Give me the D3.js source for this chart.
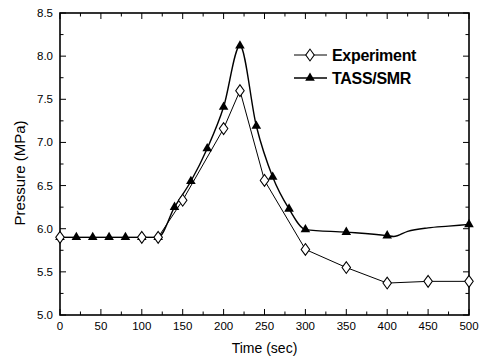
<!DOCTYPE html>
<html>
<head>
<meta charset="utf-8">
<script src="https://cdn.jsdelivr.net/npm/d3@7"></script>
<style>
    body { margin: 0; background: #fff; }
    svg { display: block; font-family: Arial, "Liberation Sans", sans-serif; }
</style>
</head>
<body>
<div id="grafico"></div>
<script>

// Experiment (diamonds)
const expTempo = [0, 100, 120, 150, 200, 220, 250, 300, 350, 400, 450, 500];
const expPressao = [5.9, 5.9, 5.9, 6.33, 7.16, 7.6, 6.56, 5.76, 5.55, 5.37, 5.39, 5.39];

// TASS/SMR markers (triangles)
const tassTempo = [0, 20, 40, 60, 80, 100, 120, 140, 160, 180, 200, 220, 240, 260, 280, 300, 350, 400, 500];
const tassPressao = [5.9, 5.9, 5.9, 5.9, 5.9, 5.9, 5.9, 6.25, 6.55, 6.93, 7.41, 8.12, 7.19, 6.6, 6.23, 5.99, 5.96, 5.92, 6.05];

// TASS/SMR curve (markers plus the visible bend after 400 s)
const tassCurvaTempo = [0, 120, 140, 160, 180, 200, 220, 240, 260, 280, 300, 350, 400, 408, 425, 450, 475, 500];
const tassCurvaPressao = [5.9, 5.9, 6.25, 6.55, 6.93, 7.41, 8.12, 7.19, 6.6, 6.23, 5.99, 5.96, 5.92, 5.91, 5.97, 6.01, 6.03, 6.05];

const ticksX = [0, 50, 100, 150, 200, 250, 300, 350, 400, 450, 500];
const ticksY = [5.0, 5.5, 6.0, 6.5, 7.0, 7.5, 8.0, 8.5];

const legendas = ["Experiment", "TASS/SMR"];

const largura = 483, altura = 364;
const margem = {top: 13, right: 14, bottom: 49, left: 60};

const svg = d3.select("#grafico").append("svg")
    .attr("width", largura)
    .attr("height", altura);

const x = d3.scaleLinear().domain([0, 500]).range([margem.left, largura - margem.right]);
const y = d3.scaleLinear().domain([5.0, 8.5]).range([altura - margem.bottom, margem.top]);

const x0 = x.range()[0], x1 = x.range()[1];
const yBase = y.range()[0], yTopo = y.range()[1];

// ticks menores
const menoresX = d3.range(0, 501, 25);
const menoresY = d3.range(5.0, 8.51, 0.25);

const eixos = svg.append("g").attr("stroke", "#000").attr("fill", "none");

menoresX.forEach((v, i) => {
    const comp = (i % 2 == 0) ? 6 : 3.5;
    eixos.append("line").attr("x1", x(v)).attr("x2", x(v)).attr("y1", yBase).attr("y2", yBase - comp).attr("stroke-width", 1);
    eixos.append("line").attr("x1", x(v)).attr("x2", x(v)).attr("y1", yTopo).attr("y2", yTopo + comp).attr("stroke-width", 1);
});

menoresY.forEach((v, i) => {
    const comp = (i % 2 == 0) ? 6 : 3.5;
    eixos.append("line").attr("x1", x0).attr("x2", x0 + comp).attr("y1", y(v)).attr("y2", y(v)).attr("stroke-width", 1);
    eixos.append("line").attr("x1", x1).attr("x2", x1 - comp).attr("y1", y(v)).attr("y2", y(v)).attr("stroke-width", 1);
});

eixos.append("rect")
    .attr("x", x0).attr("y", yTopo)
    .attr("width", x1 - x0).attr("height", yBase - yTopo)
    .attr("stroke-width", 1.6);

// rotulos
svg.append("g").selectAll("text")
    .data(ticksX)
    .enter().append("text")
        .attr("x", (d) => x(d))
        .attr("y", yBase + 15)
        .attr("text-anchor", "middle")
        .attr("font-size", "11.5px")
        .text((d) => d);

svg.append("g").selectAll("text")
    .data(ticksY)
    .enter().append("text")
        .attr("x", x0 - 7)
        .attr("y", (d) => y(d) + 4)
        .attr("text-anchor", "end")
        .attr("font-size", "11.5px")
        .text((d) => d.toFixed(1));

svg.append("text")
    .attr("x", (x0 + x1) / 2)
    .attr("y", 353)
    .attr("text-anchor", "middle")
    .attr("font-size", "14px")
    .text("Time (sec)");

svg.append("text")
    .attr("transform", "translate(25," + 173 + ") rotate(-90)")
    .attr("text-anchor", "middle")
    .attr("font-size", "15px")
    .text("Pressure (MPa)");

// linhas
const linhaExp = d3.line()
    .x((d) => x(d[0]))
    .y((d) => y(d[1]));

const linhaTass = d3.line()
    .x((d) => x(d[0]))
    .y((d) => y(d[1]))
    .curve(d3.curveMonotoneX);

svg.append("path")
    .datum(tassCurvaTempo.map((t, i) => [t, tassCurvaPressao[i]]))
    .attr("d", linhaTass)
    .attr("fill", "none")
    .attr("stroke", "#000")
    .attr("stroke-width", 1.4);

svg.append("path")
    .datum(expTempo.map((t, i) => [t, expPressao[i]]))
    .attr("d", linhaExp)
    .attr("fill", "none")
    .attr("stroke", "#000")
    .attr("stroke-width", 1);

const triangulo = d3.symbol().type(d3.symbolTriangle).size(40);
const losango = d3.symbol().type(d3.symbolDiamond).size(40);

svg.append("g").selectAll("path")
    .data(tassTempo.map((t, i) => [t, tassPressao[i]]))
    .enter().append("path")
        .attr("d", triangulo)
        .attr("transform", (d) => "translate(" + x(d[0]) + "," + y(d[1]) + ")")
        .attr("fill", "#000");

svg.append("g").selectAll("path")
    .data(expTempo.map((t, i) => [t, expPressao[i]]))
    .enter().append("path")
        .attr("d", losango)
        .attr("transform", (d) => "translate(" + x(d[0]) + "," + y(d[1]) + ") scale(1.25,1)")
        .attr("fill", "#fff")
        .attr("stroke", "#000")
        .attr("stroke-width", 0.9);

// legenda
const legenda = svg.append("g");
legendas.forEach((nome, i) => {
    const ly = 55 + i * 23;
    legenda.append("line")
        .attr("x1", 294).attr("x2", 327)
        .attr("y1", ly).attr("y2", ly)
        .attr("stroke", "#000")
        .attr("stroke-width", i == 0 ? 1 : 1.4);
    legenda.append("path")
        .attr("d", i == 0 ? losango : triangulo)
        .attr("transform", "translate(310," + ly + ")" + (i == 0 ? " scale(1.25,1)" : ""))
        .attr("fill", i == 0 ? "#fff" : "#000")
        .attr("stroke", i == 0 ? "#000" : "none")
        .attr("stroke-width", 0.9);
    legenda.append("text")
        .attr("x", 332)
        .attr("y", ly + 6)
        .attr("font-size", "16px")
        .attr("font-weight", "bold")
        .attr("letter-spacing", "-0.3px")
        .text(nome);
});

</script>
</body>
</html>
